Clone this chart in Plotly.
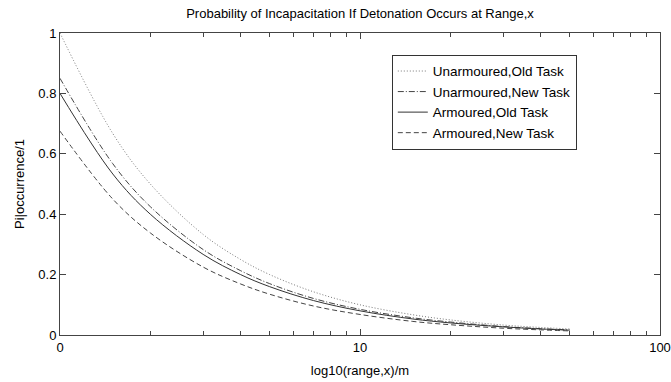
import plotly.graph_objects as go

# range x (m)
range_x = [1, 1.5, 2, 3, 4, 5, 7, 10, 15, 20, 30, 40, 50]

unarm_old = [1.00, 0.667, 0.50, 0.333, 0.25, 0.20, 0.143, 0.100, 0.067, 0.050, 0.033, 0.025, 0.020]
unarm_new = [0.85, 0.567, 0.425, 0.283, 0.213, 0.170, 0.121, 0.085, 0.057, 0.043, 0.028, 0.021, 0.017]
arm_old = [0.80, 0.533, 0.400, 0.267, 0.200, 0.160, 0.114, 0.080, 0.053, 0.040, 0.027, 0.020, 0.016]
arm_new = [0.675, 0.450, 0.338, 0.225, 0.169, 0.135, 0.096, 0.068, 0.045, 0.034, 0.0225, 0.017, 0.0135]

series_names = ["Unarmoured,Old Task", "Unarmoured,New Task", "Armoured,Old Task", "Armoured,New Task"]
series_vals = [unarm_old, unarm_new, arm_old, arm_new]
dashes = ["1px,2px", "6px,2px,1px,2px", "solid", "5px,3px"]
colors = ["#777777", "#444444", "#333333", "#444444"]

x_major = [1, 10, 100]
x_major_text = ["0", "10", "100"]
x_minor = [2, 3, 4, 5, 6, 7, 8, 9, 20, 30, 40, 50, 60, 70, 80, 90]
y_ticks = [0, 0.2, 0.4, 0.6, 0.8, 1]
y_text = ["0", "0.2", "0.4", "0.6", "0.8", "1"]

fig = go.Figure()
for name, vals, d, c in zip(series_names, series_vals, dashes, colors):
    fig.add_trace(go.Scatter(x=range_x, y=vals, mode="lines", name=name,
                             line=dict(color=c, width=1, dash=d, shape="spline")))

font = dict(family="Liberation Sans, Arial, sans-serif", size=12, color="black")
fig.update_layout(
    width=671, height=382,
    margin=dict(l=60, r=11, t=33, b=47),
    paper_bgcolor="white", plot_bgcolor="white",
    font=font,
    title=dict(text="Probability of Incapacitation If Detonation Occurs at Range,x",
               x=(60 + 660) / 2 / 671, xanchor="center", y=1 - 13 / 382, yanchor="middle",
               font=dict(size=13)),
    showlegend=True,
    legend=dict(x=0.553, y=0.928, xanchor="left", yanchor="top",
                bgcolor="white", bordercolor="#333333", borderwidth=1,
                font=dict(size=13.5), tracegroupgap=0),
)
fig.update_xaxes(type="log", range=[0, 2], tickvals=x_major, ticktext=x_major_text,
                 ticks="inside", ticklen=6, tickcolor="#444444", automargin=False,
                 ticklabeloverflow="allow", tickfont=dict(size=13),
                 minor=dict(tickvals=x_minor, ticks="inside", ticklen=4, tickcolor="#444444"),
                 showline=True, linecolor="#444444", linewidth=1, mirror="ticks",
                 showgrid=False, zeroline=False,
                 title=dict(text="log10(range,x)/m", standoff=12, font=dict(size=13)))
fig.update_yaxes(range=[0, 1], tickvals=y_ticks, ticktext=y_text, automargin=False,
                 ticks="inside", ticklen=6, tickcolor="#444444", tickfont=dict(size=13),
                 showline=True, linecolor="#444444", linewidth=1, mirror="ticks",
                 showgrid=False, zeroline=False,
                 title=dict(text="Pi|occurrence/1", standoff=10, font=dict(size=13)))

fig.write_html("out.html")
